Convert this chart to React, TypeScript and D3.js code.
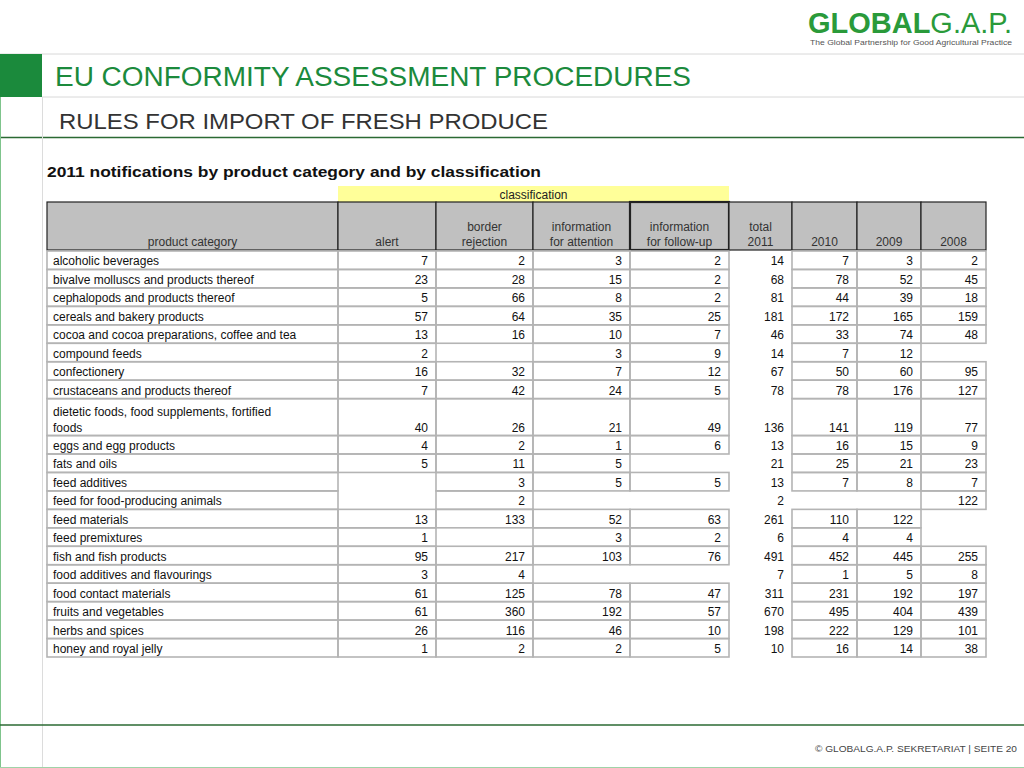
import React from 'react';
import * as d3 from 'd3';

// table content (2011 RASFF notifications)
const categories = [
  'alcoholic beverages',
  'bivalve molluscs and products thereof',
  'cephalopods and products thereof',
  'cereals and bakery products',
  'cocoa and cocoa preparations, coffee and tea',
  'compound feeds',
  'confectionery',
  'crustaceans and products thereof',
  'dietetic foods, food supplements, fortified\nfoods',
  'eggs and egg products',
  'fats and oils',
  'feed additives',
  'feed for food-producing animals',
  'feed materials',
  'feed premixtures',
  'fish and fish products',
  'food additives and flavourings',
  'food contact materials',
  'fruits and vegetables',
  'herbs and spices',
  'honey and royal jelly',
];

const alertCounts = [7, 23, 5, 57, 13, 2, 16, 7, 40, 4, 5, null, null, 13, 1, 95, 3, 61, 61, 26, 1];
const borderRejection = [2, 28, 66, 64, 16, null, 32, 42, 26, 2, 11, 3, 2, 133, null, 217, 4, 125, 360, 116, 2];
const infoAttention = [3, 15, 8, 35, 10, 3, 7, 24, 21, 1, 5, 5, null, 52, 3, 103, null, 78, 192, 46, 2];
const infoFollowUp = [2, 2, 2, 25, 7, 9, 12, 5, 49, 6, null, 5, null, 63, 2, 76, null, 47, 57, 10, 5];
const total2011 = [14, 68, 81, 181, 46, 14, 67, 78, 136, 13, 21, 13, 2, 261, 6, 491, 7, 311, 670, 198, 10];
const total2010 = [7, 78, 44, 172, 33, 7, 50, 78, 141, 16, 25, 7, null, 110, 4, 452, 1, 231, 495, 222, 16];
const total2009 = [3, 52, 39, 165, 74, 12, 60, 176, 119, 15, 21, 8, null, 122, 4, 445, 5, 192, 404, 129, 14];
const total2008 = [2, 45, 18, 159, 48, null, 95, 127, 77, 9, 23, 7, 122, null, null, 255, 8, 197, 439, 101, 38];

const headerLabels = [
  ['product category'],
  ['alert'],
  ['border', 'rejection'],
  ['information', 'for attention'],
  ['information', 'for follow-up'],
  ['total', '2011'],
  ['2010'],
  ['2009'],
  ['2008'],
];

const valueColumns = [alertCounts, borderRejection, infoAttention, infoFollowUp, total2011, total2010, total2009, total2008];

// layout
const colEdges = [47, 338, 436, 533, 630, 729, 792, 857, 921, 986];
const headTop = 202;
const bodyTop = 251;
const bodyBottom = 657;
const GREEN = '#1b8a3c';
const FONT = '"Liberation Sans", Arial, sans-serif';
const NARROW = '"Liberation Sans Narrow", "Liberation Sans", Arial, sans-serif';

export default function App() {
  const rowUnits = categories.map((c) => (c.includes('\n') ? 2 : 1));
  const cum = [0, ...d3.cumsum(rowUnits)];
  const y = d3.scaleLinear().domain([0, cum[cum.length - 1]]).range([bodyTop, bodyBottom]);

  return (
    <svg width={1024} height={768} style={{ position: 'absolute', left: 0, top: 0, background: '#fff' }}>
      {/* slide frame */}
      <line x1={0} x2={1024} y1={54} y2={54} stroke="#d8d8d8" />
      <rect x={0} y={54} width={42} height={43} fill={GREEN} />
      <line x1={42} x2={1024} y1={97} y2={97} stroke="#d8d8d8" />
      <line x1={0} x2={1024} y1={137.5} y2={137.5} stroke="#2b6a33" strokeWidth={1.3} />
      <line x1={42.5} x2={42.5} y1={97} y2={768} stroke="#dcdcdc" />
      <line x1={0.5} x2={0.5} y1={97} y2={768} stroke="#7fc48c" />
      <line x1={0} x2={1024} y1={725} y2={725} stroke="#2b6a33" strokeWidth={1.3} />
      <line x1={0} x2={1024} y1={767.5} y2={767.5} stroke="#9fd3a8" />

      {/* logo */}
      <text x={808} y={33} fontFamily={FONT} fontSize={29} fill="#2a9a3a" textLength={204} lengthAdjust="spacingAndGlyphs">
        <tspan fontWeight="bold">GLOBAL</tspan>
        <tspan>G.A.P.</tspan>
      </text>
      <text x={810} y={45} fontFamily={FONT} fontSize={7} fill="#555" textLength={202} lengthAdjust="spacingAndGlyphs">
        The Global Partnership for Good Agricultural Practice
      </text>

      {/* titles */}
      <text x={55} y={86} fontFamily={NARROW} fontSize={27} fill={GREEN} textLength={636} lengthAdjust="spacingAndGlyphs">
        EU CONFORMITY ASSESSMENT PROCEDURES
      </text>
      <text x={59} y={129} fontFamily={NARROW} fontSize={22} fill="#333" textLength={489} lengthAdjust="spacingAndGlyphs">
        RULES FOR IMPORT OF FRESH PRODUCE
      </text>

      {/* table heading */}
      <text x={47} y={177} fontFamily={FONT} fontSize={15} fontWeight="bold" fill="#111" textLength={494} lengthAdjust="spacingAndGlyphs">
        2011 notifications by product category and by classification
      </text>
      <rect x={colEdges[1]} y={186} width={colEdges[5] - colEdges[1]} height={16} fill="#ffff99" />
      <text x={(colEdges[1] + colEdges[5]) / 2} y={199} textAnchor="middle" fontFamily={FONT} fontSize={12} fill="#222">
        classification
      </text>

      {/* header row */}
      {headerLabels.map((lines, i) => {
        const x0 = colEdges[i];
        const x1 = colEdges[i + 1];
        return (
          <g key={'h' + i}>
            <rect x={x0} y={headTop} width={x1 - x0} height={bodyTop - headTop - 1} fill="#c0c0c0" stroke="#222" strokeWidth={i === 4 ? 2.2 : 1.2} />
            {lines.map((l, j) => (
              <text key={j} x={(x0 + x1) / 2} y={246 - (lines.length - 1 - j) * 15} textAnchor="middle" fontFamily={FONT} fontSize={12} fill="#333">
                {l}
              </text>
            ))}
          </g>
        );
      })}

      {/* body */}
      {categories.map((cat, r) => {
        const top = y(cum[r]);
        const bot = y(cum[r + 1]);
        const lines = cat.split('\n');
        const base = bot - 4;
        return (
          <g key={'r' + r}>
            <rect x={colEdges[0]} y={top} width={colEdges[1] - colEdges[0]} height={bot - top} fill="none" stroke="#b4b4b4" strokeWidth={1.6} />
            {lines.map((l, j) => (
              <text key={j} x={colEdges[0] + 6} y={base - (lines.length - 1 - j) * 16} fontFamily={FONT} fontSize={12} fill="#111">
                {l}
              </text>
            ))}
            {valueColumns.map((col, c) => {
              const v = col[r];
              if (v === null) return null;
              const x0 = colEdges[c + 1];
              const x1 = colEdges[c + 2];
              return (
                <g key={c}>
                  {c !== 4 && (
                    <rect x={x0} y={top} width={x1 - x0} height={bot - top} fill="none" stroke="#b4b4b4" strokeWidth={1.6} />
                  )}
                  <text x={x1 - 8} y={base} textAnchor="end" fontFamily={FONT} fontSize={12} fill="#111">
                    {v}
                  </text>
                </g>
              );
            })}
          </g>
        );
      })}

      {/* footer */}
      <text x={1017} y={752} textAnchor="end" fontFamily={FONT} fontSize={8.5} fill="#444" textLength={202} lengthAdjust="spacingAndGlyphs">
        © GLOBALG.A.P. SEKRETARIAT | SEITE 20
      </text>
    </svg>
  );
}
